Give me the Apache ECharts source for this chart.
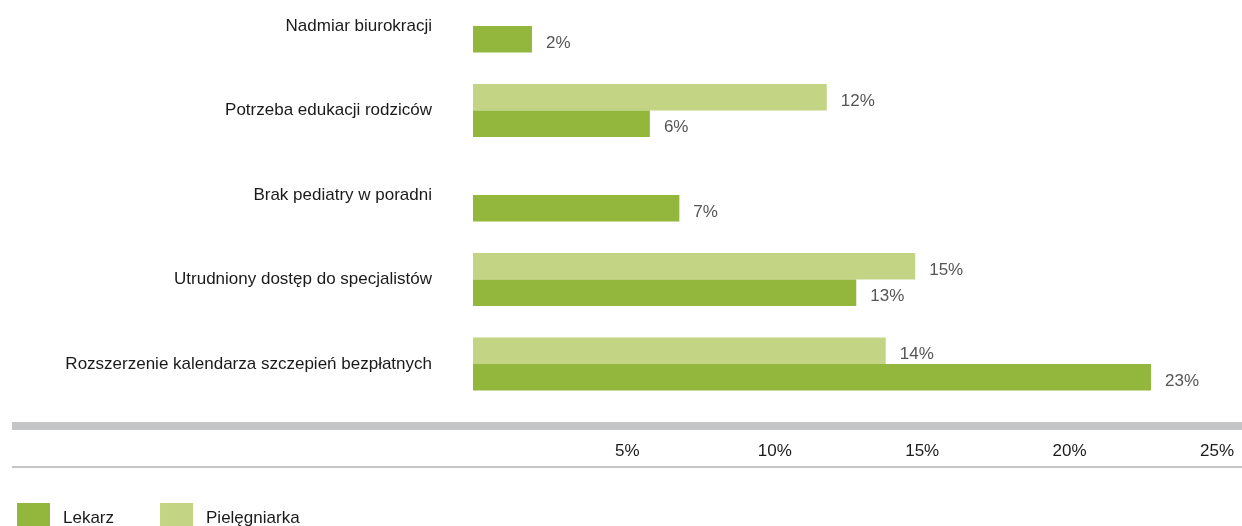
<!DOCTYPE html>
<html>
<head>
<meta charset="utf-8">
<script src="https://cdn.jsdelivr.net/npm/echarts@6/dist/echarts.min.js"></script>
<style>
  html, body { margin: 0; padding: 0; background: #ffffff; }
  #chart { width: 1242px; height: 526px; }
</style>
</head>
<body>
<div id="chart"></div>
<script>
// Problemy zgłaszane przez personel (odsetek odpowiedzi)
const categories = [
  'Nadmiar biurokracji',
  'Potrzeba edukacji rodziców',
  'Brak pediatry w poradni',
  'Utrudniony dostęp do specjalistów',
  'Rozszerzenie kalendarza szczepień bezpłatnych'
];
const lekarz = [2, 6, 7, 13, 23];
const pielegniarka = [null, 12, null, 15, 14];
const xTicks = [0, 5, 10, 15, 20, 25];

const FONT = '"Liberation Sans", Arial, sans-serif';
const FS = 17;
const DARK = '#93b73d';
const LIGHT = '#c3d485';

const chart = echarts.init(document.getElementById('chart'), null, { renderer: 'canvas' });

const valueLabel = {
  show: true,
  position: 'right',
  distance: 14,
  offset: [0, 4],
  formatter: p => p.value + '%',
  color: '#555555',
  fontFamily: FONT,
  fontSize: FS
};

chart.setOption({
  animation: false,
  backgroundColor: '#ffffff',
  textStyle: { fontFamily: FONT },
  grid: { left: 473, right: 32, top: 26, bottom: 526 - 364, containLabel: false },
  xAxis: {
    type: 'value',
    min: xTicks[0],
    max: xTicks[xTicks.length - 1],
    interval: 5,
    offset: 71,
    axisLine: { show: false },
    axisTick: { show: false },
    splitLine: { show: false },
    axisLabel: {
      color: '#1a1a1a',
      fontFamily: FONT,
      fontSize: FS,
      padding: [0, 0, 0, 14],
      formatter: v => (v === 0 ? '' : v + '%')
    }
  },
  yAxis: {
    type: 'category',
    data: categories,
    inverse: true,
    boundaryGap: false,
    axisLine: { show: false },
    axisTick: { show: false },
    splitLine: { show: false },
    axisLabel: {
      color: '#1a1a1a',
      fontFamily: FONT,
      fontSize: FS,
      margin: 41,
      padding: [0, 0, 3, 0]
    }
  },
  legend: {
    data: ['Lekarz', 'Pielęgniarka'],
    left: 12,
    top: 498,
    itemWidth: 33,
    itemHeight: 30,
    itemGap: 46,
    icon: 'rect',
    textStyle: { color: '#1a1a1a', fontFamily: FONT, fontSize: FS, padding: [0, 0, 6, 8] }
  },
  graphic: [
    { type: 'rect', shape: { x: 12, y: 422, width: 1230, height: 8 }, style: { fill: '#c4c5c7' }, silent: true },
    { type: 'rect', shape: { x: 12, y: 466, width: 1230, height: 2 }, style: { fill: '#c4c5c7' }, silent: true }
  ],
  series: [
    {
      name: 'Pielęgniarka',
      type: 'bar',
      data: pielegniarka,
      barWidth: 26.5,
      barGap: '0%',
      itemStyle: { color: LIGHT },
      label: valueLabel
    },
    {
      name: 'Lekarz',
      type: 'bar',
      data: lekarz,
      barWidth: 26.5,
      barGap: '0%',
      itemStyle: { color: DARK },
      label: valueLabel
    }
  ]
});
</script>
</body>
</html>
